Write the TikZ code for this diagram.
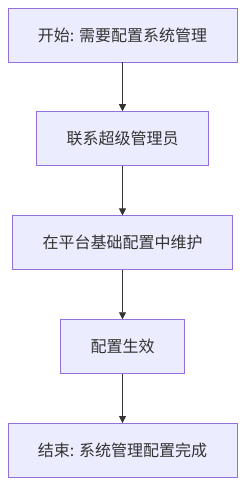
\documentclass[tikz,border=0pt]{standalone}
\usepackage{fontspec}
\setmainfont{Noto Sans CJK SC}
\usetikzlibrary{arrows.meta}
\definecolor{boxfill}{HTML}{ECECFF}
\definecolor{boxline}{HTML}{9370DB}
\definecolor{edge}{HTML}{333333}
\begin{document}
\begin{tikzpicture}[x=1pt,y=1pt,
  stepbox/.style={draw=boxline, fill=boxfill, line width=0.9pt, minimum height=54pt, inner sep=0pt, font=\fontsize{16}{18}\selectfont, text=edge},
  flow/.style={draw=edge, line width=0.8pt, -{Triangle[length=7pt,width=7pt]}}]
\useasboundingbox (0,0) rectangle (245,-486);
\node[stepbox, minimum width=229pt] (a) at (122.5,-35) {开始: 需要配置系统管理};
\node[stepbox, minimum width=172.5pt] (b) at (122.5,-138.7) {联系超级管理员};
\node[stepbox, minimum width=220pt] (c) at (122.5,-242.9) {在平台基础配置中维护};
\node[stepbox, minimum width=124pt] (d) at (122.5,-346.7) {配置生效};
\node[stepbox, minimum width=229pt] (e) at (122.5,-450.5) {结束: 系统管理配置完成};
\draw[flow] (a) -- (b);
\draw[flow] (b) -- (c);
\draw[flow] (c) -- (d);
\draw[flow] (d) -- (e);
\end{tikzpicture}
\end{document}
